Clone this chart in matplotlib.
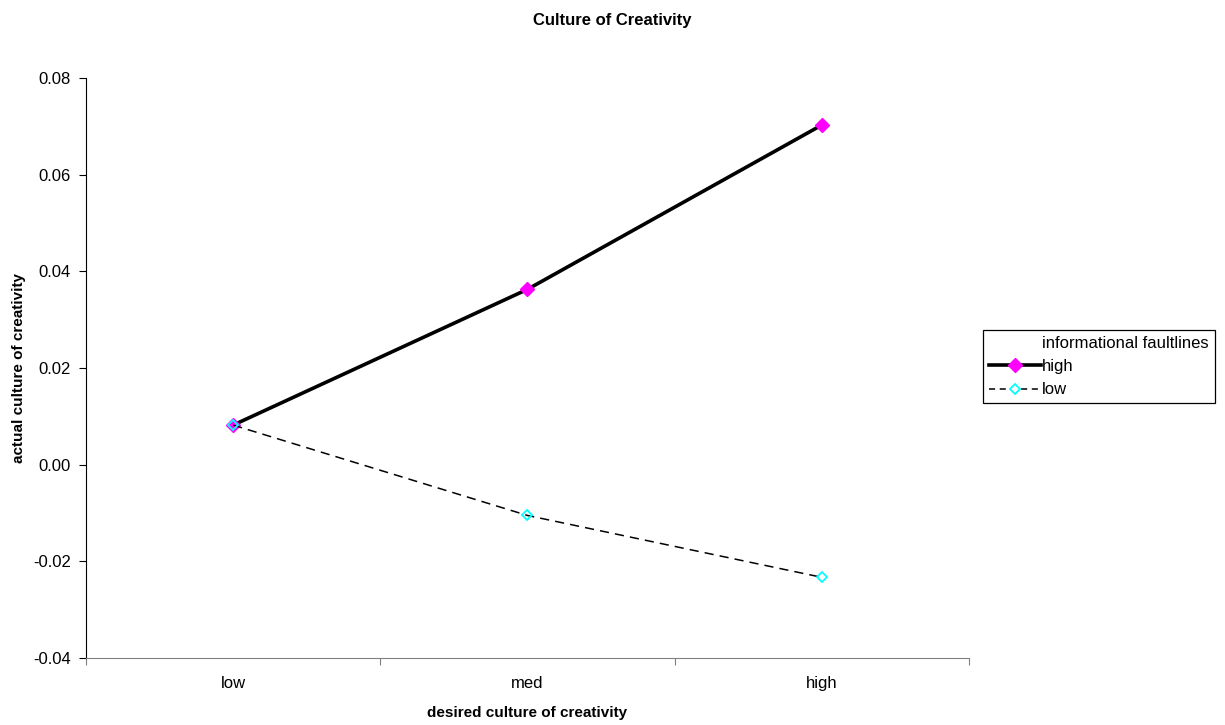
import matplotlib
matplotlib.use("Agg")
import matplotlib.pyplot as plt
from matplotlib.lines import Line2D

plt.rcParams['font.family'] = ['Liberation Sans', 'DejaVu Sans']

categories = ["low", "med", "high"]
high_vals = [0.0082, 0.0363, 0.0703]
low_vals = [0.0082, -0.0105, -0.0233]
yticks = [-0.04, -0.02, 0.00, 0.02, 0.04, 0.06, 0.08]

fig = plt.figure(figsize=(12.25, 7.25), dpi=100)
ax = fig.add_axes([0.0702, 0.0924, 0.7208, 0.7998])

x = list(range(len(categories)))
ax.plot(x, high_vals, color='black', lw=2.6, marker='D', ms=7,
        mfc='#FF00FF', mec='#FF00FF', label='high', zorder=3)
ax.plot(x, low_vals, color='black', lw=1.1, ls=(0, (6, 4)), marker='D', ms=5,
        mfc='none', mec='#00FFFF', mew=1.3, label='low', zorder=4)

ax.set_xlim(-0.5, 2.5)
ax.set_ylim(-0.04, 0.08)
ax.set_yticks(yticks)
ax.set_yticklabels([f"{v:.2f}" for v in yticks], fontsize=12)
ax.set_xticks([-0.5, 0.5, 1.5, 2.5])
ax.set_xticklabels([])
ax.set_xticks(x, minor=True)
ax.set_xticklabels(categories, minor=True, fontsize=12)
ax.tick_params(axis='x', which='minor', length=0, pad=13)
ax.tick_params(axis='x', which='major', direction='out', length=5, color='#808080')
ax.tick_params(axis='y', direction='out', length=5, pad=6)
for s in ['top', 'right']:
    ax.spines[s].set_visible(False)
ax.spines['bottom'].set_color('#808080')

ax.set_xlabel('desired culture of creativity', fontsize=11, fontweight='bold', labelpad=11)
ax.set_ylabel('actual culture of creativity', fontsize=11, fontweight='bold', labelpad=5)
fig.suptitle('Culture of Creativity', fontsize=12, fontweight='bold', y=0.982)

h_title = Line2D([], [], color='none')
h_high = Line2D([], [], color='black', lw=2.6, marker='D', ms=7, mfc='#FF00FF', mec='#FF00FF')
h_low = Line2D([], [], color='black', lw=1.1, ls=(0, (4, 3)), marker='D', ms=5,
               mfc='white', mec='#00FFFF', mew=1.3)
leg = fig.legend([h_title, h_high, h_low], ['informational faultlines', 'high', 'low'],
                 loc='upper left', bbox_to_anchor=(0.8025, 0.545), fontsize=12,
                 frameon=True, fancybox=False, edgecolor='black', framealpha=1,
                 handlelength=3.1, handletextpad=0.1, borderpad=0.35, labelspacing=0.5,
                 borderaxespad=0)
leg.get_frame().set_linewidth(0.9)

fig.savefig('out.png', dpi=100)
